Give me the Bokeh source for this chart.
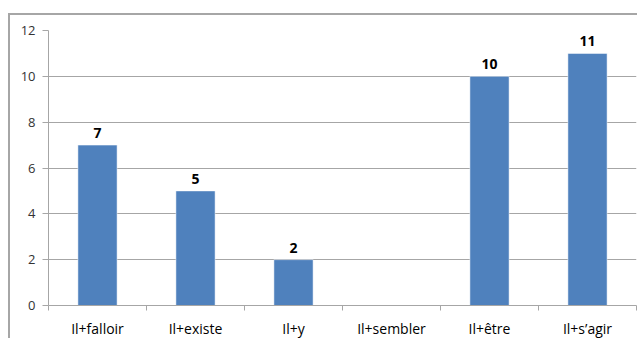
from bokeh.plotting import figure
from bokeh.models import FixedTicker, ColumnDataSource, Range1d
from bokeh.core.properties import value
from bokeh.embed import file_html
from bokeh.resources import INLINE

categories = ["Il+falloir", "Il+existe", "Il+y", "Il+sembler", "Il+être", "Il+s’agir"]
counts = [7, 5, 2, 0, 10, 11]
y_ticks = [0, 2, 4, 6, 8, 10, 12]

FONT = "Open Sans"
BAR = "#4F81BD"
GRID = "#A6A6A6"

n = len(categories)
xc = [i + 0.5 for i in range(n)]

p = figure(width=629, height=325, output_backend="svg", toolbar_location=None,
           x_range=Range1d(0, n), y_range=Range1d(0, 12),
           min_border_left=38, min_border_right=3, min_border_top=15, min_border_bottom=34)
p.styles = {"margin-left": "8px", "margin-top": "13px",
            "border-left": "2px solid #A6A6A6", "border-top": "2px solid #A6A6A6"}
p.outline_line_color = None
p.background_fill_color = "white"
p.border_fill_color = "white"

src = ColumnDataSource(dict(x=xc, top=counts, cat=categories,
                            lab=[str(v) if v else "" for v in counts]))
p.vbar(x="x", top="top", width=0.4, bottom=0, source=src,
       fill_color=BAR, line_color="#FFFFFF", line_width=0.5)
p.text(x="x", y="top", text="lab", source=src, text_align="center",
       text_baseline="bottom", y_offset=-7, text_font=value(FONT),
       text_font_style="bold", text_font_size="14px", text_color="#000000")

# y axis
p.yaxis.ticker = FixedTicker(ticks=y_ticks)
p.yaxis.axis_line_color = GRID
p.yaxis.major_tick_line_color = GRID
p.yaxis.major_tick_out = 6
p.yaxis.major_tick_in = 0
p.yaxis.minor_tick_line_color = None
p.yaxis.major_label_standoff = 7
p.yaxis.major_label_text_font = FONT
p.yaxis.major_label_text_font_size = "13px"
p.yaxis.major_label_text_color = "#333333"

# x axis: labels at centers, tick marks at boundaries
p.xaxis.ticker = FixedTicker(ticks=xc, minor_ticks=list(range(n + 1)))
p.xaxis.major_label_overrides = {x: c for x, c in zip(xc, categories)}
p.xaxis.axis_line_color = GRID
p.xaxis.major_tick_line_color = None
p.xaxis.major_tick_out = 5
p.xaxis.major_tick_in = 0
p.xaxis.minor_tick_line_color = GRID
p.xaxis.minor_tick_out = 5
p.xaxis.minor_tick_in = 0
p.xaxis.major_label_standoff = 8
p.xaxis.major_label_text_font = FONT
p.xaxis.major_label_text_font_size = "14px"
p.xaxis.major_label_text_color = "#000000"

p.xgrid.grid_line_color = None
p.ygrid.ticker = FixedTicker(ticks=y_ticks)
p.ygrid.grid_line_color = GRID
p.ygrid.grid_line_width = 1

open("out.html", "w").write(file_html(p, INLINE))
